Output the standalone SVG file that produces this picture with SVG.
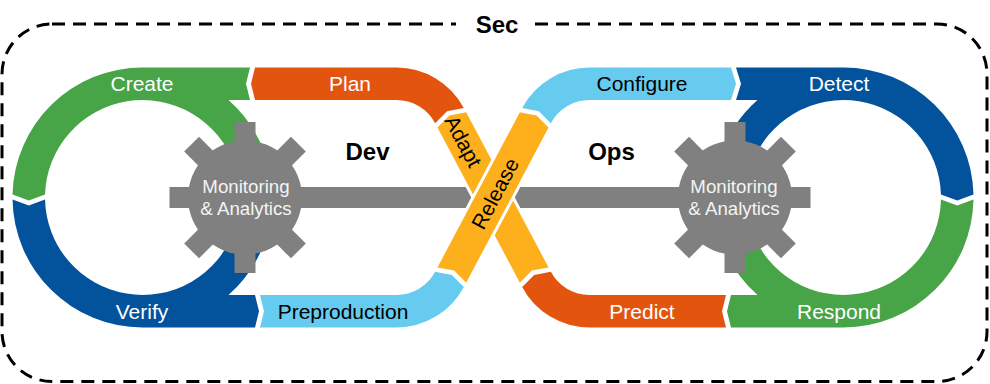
<svg xmlns="http://www.w3.org/2000/svg" width="990" height="384" viewBox="0 0 990 384">
<style>
.green{fill:#47A447}
.red{fill:#E3550F}
.yel{fill:#FDB01B;stroke:#fff;stroke-width:6;paint-order:stroke;stroke-linejoin:miter}
.lblue{fill:#66CBEF}
.dblue{fill:#02529C}
.gear{fill:#808080}
.lbl{font-family:"Liberation Sans",Arial,sans-serif;font-size:21px;text-anchor:middle}
.glbl{font-family:"Liberation Sans",Arial,sans-serif;font-size:18.7px;text-anchor:middle;fill:#f4f4f4}
.big{font-family:"Liberation Sans",Arial,sans-serif;font-size:24px;font-weight:bold;text-anchor:middle;fill:#000}
.w{fill:#fff}
.k{fill:#000}
</style>
<defs>
<g id="gearShape">
<circle r="57"/>
<rect x="-10.5" y="-75.5" width="21" height="151"/>
<rect x="-10.5" y="-75.5" width="21" height="151" transform="rotate(45)"/>
<rect x="-10.5" y="-75.5" width="21" height="151" transform="rotate(90)"/>
<rect x="-10.5" y="-75.5" width="21" height="151" transform="rotate(135)"/>
</g>
</defs>
<rect width="990" height="384" fill="#fff"/>
<g id="sec">
<rect x="2" y="24" width="985" height="357.5" rx="50" ry="50" fill="none" stroke="#000" stroke-width="3" stroke-dasharray="13 8"/>
<rect x="456" y="10" width="71" height="28" fill="#fff"/>
<text class="big" x="497" y="32.5">Sec</text>
</g>
<g id="create"><path class="green" d="M12.53 194.5A130 130 0 0 1 142.5 67.5L250 67.5L246 83.75L250 100L228.49 100A130 130 0 0 1 264.66 153.04L234.12 164.15A97.5 97.5 0 0 0 45.05 194.5L28.75 200.5Z"/><text class="lbl w" x="142" y="91">Create</text></g>
<g id="verify"><path class="dblue" d="M12.53 199.5L28.75 205.5L45.05 199.5A97.5 97.5 0 0 0 234.12 230.85L264.66 241.96A130 130 0 0 1 228.49 295L255 295L259 311.25L255 327.5L142.5 327.5A130 130 0 0 1 12.53 199.5Z"/><text class="lbl w" x="142" y="319">Verify</text></g>
<g id="plan"><path class="red" d="M255 67.5L396.5 67.5A76.25 76.25 0 0 1 463.82 107.95L447.12 111.17L435.13 123.21A43.75 43.75 0 0 0 396.5 100L255 100L251 83.75Z"/><text class="lbl w" x="350" y="91">Plan</text></g>
<g id="preproduction"><path class="lblue" d="M260 295L396.5 295A43.75 43.75 0 0 0 435.13 271.79L451.82 275.01L463.82 287.05A76.25 76.25 0 0 1 396.5 327.5L260 327.5L264 311.25Z"/><text class="lbl k" x="343" y="319">Preproduction</text></g>
<g id="configure"><path class="lblue" d="M522.18 107.95L538.88 111.17L550.87 123.21A43.75 43.75 0 0 1 589.5 100L731 100L736 83.75L731 67.5L589.5 67.5A76.25 76.25 0 0 0 522.18 107.95Z"/><text class="lbl k" x="642" y="91">Configure</text></g>
<g id="detect"><path class="dblue" d="M736 67.5L843.5 67.5A130 130 0 0 1 973.47 194.5L957.25 200.5L940.95 194.5A97.5 97.5 0 0 0 751.88 164.15L721.34 153.04A130 130 0 0 1 757.51 100L736 100L741 83.75Z"/><text class="lbl w" x="839" y="91">Detect</text></g>
<g id="respond"><path class="green" d="M973.47 199.5L957.25 205.5L940.95 199.5A97.5 97.5 0 0 1 751.88 230.85L721.34 241.96A130 130 0 0 0 757.51 295L731 295L727 311.25L731 327.5L843.5 327.5A130 130 0 0 0 973.47 199.5Z"/><text class="lbl w" x="839" y="319">Respond</text></g>
<g id="predict"><path class="red" d="M522.18 287.05L534.18 275.01L550.87 271.79A43.75 43.75 0 0 0 589.5 295L726 295L722 311.25L726 327.5L589.5 327.5A76.25 76.25 0 0 1 522.18 287.05Z"/><text class="lbl w" x="642" y="319">Predict</text></g>
<g id="connectors"><rect class="gear" x="245" y="187" width="490" height="21"/></g>
<g id="gear-dev"><use href="#gearShape" class="gear" transform="translate(245,197.5)"/><text class="glbl" x="246" y="192.5">Monitoring</text><text class="glbl" x="246" y="214.5">&amp; Analytics</text></g>
<g id="gear-ops"><use href="#gearShape" class="gear" transform="translate(735,197.5)"/><text class="glbl" x="734" y="192.5">Monitoring</text><text class="glbl" x="734" y="214.5">&amp; Analytics</text></g>
<g id="adapt"><polygon class="yel" points="437.47,127.62 449.47,115.58 466.17,112.36 548.53,267.38 531.83,270.59 519.83,282.64"/><text class="lbl k" font-size="20" transform="translate(463,141.5) rotate(62)" y="7">Adapt</text></g>
<g id="release"><polygon class="yel" points="437.47,267.38 454.17,270.6 466.17,282.64 548.53,127.62 536.53,115.58 519.83,112.36"/><text class="lbl k" transform="translate(495,193.5) rotate(-62)" y="7.5">Release</text></g>
<g id="dev"><text class="big" x="367.5" y="160">Dev</text></g>
<g id="ops"><text class="big" x="611.5" y="160">Ops</text></g>
</svg>
